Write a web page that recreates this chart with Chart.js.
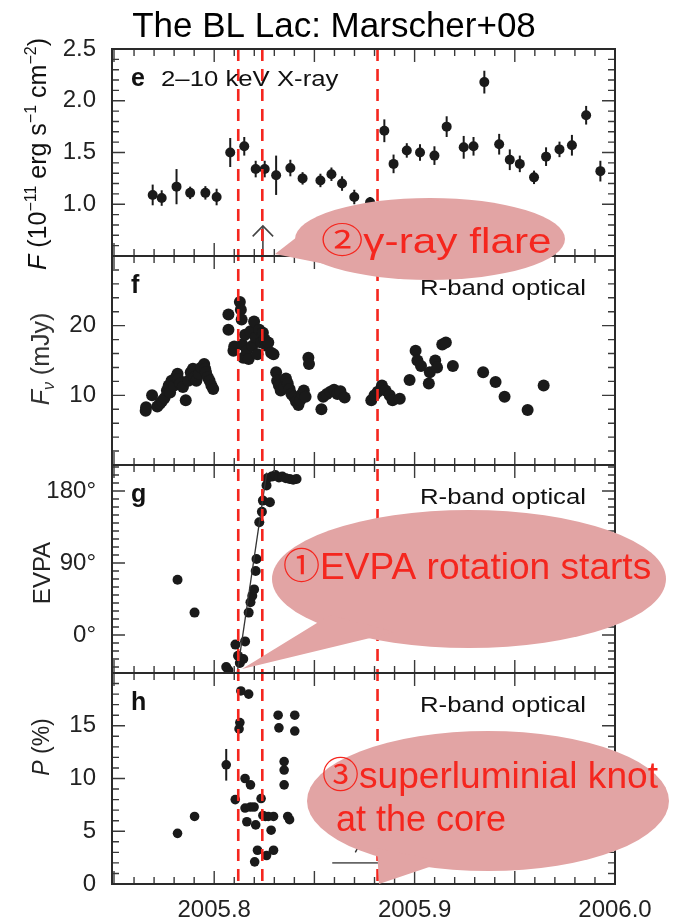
<!DOCTYPE html>
<html>
<head>
<meta charset="utf-8">
<title>The BL Lac: Marscher+08</title>
<script src="https://cdn.jsdelivr.net/npm/chart.js@4.4.1/dist/chart.umd.min.js"></script>
<style>
  html, body { margin: 0; padding: 0; background: #fff; }
</style>
</head>
<body>
<canvas id="blLac" width="682" height="924"></canvas>
<script>
// values (time in years)
const xrayYear = [2005.7693, 2005.7738, 2005.7812, 2005.7880, 2005.7956, 2005.8012, 2005.8080, 2005.8150, 2005.8207, 2005.8252, 2005.8309, 2005.8380, 2005.8441, 2005.8530, 2005.8585, 2005.8638, 2005.8699, 2005.8778, 2005.8849, 2005.8895, 2005.8961, 2005.9027, 2005.9099, 2005.9160, 2005.9245, 2005.9294, 2005.9348, 2005.9422, 2005.9475, 2005.9525, 2005.9596, 2005.9656, 2005.9723, 2005.9785, 2005.9856, 2005.9927];
const xrayFlux = [1.09, 1.06, 1.17, 1.11, 1.11, 1.07, 1.50, 1.56, 1.34, 1.34, 1.28, 1.35, 1.25, 1.23, 1.29, 1.20, 1.07, 1.02, 1.71, 1.39, 1.52, 1.50, 1.47, 1.75, 1.55, 1.56, 2.18, 1.58, 1.43, 1.39, 1.26, 1.46, 1.53, 1.57, 1.86, 1.32];
const xrayErr = [0.10, 0.075, 0.17, 0.06, 0.065, 0.08, 0.14, 0.09, 0.08, 0.08, 0.19, 0.08, 0.06, 0.065, 0.065, 0.07, 0.07, 0.05, 0.11, 0.09, 0.07, 0.08, 0.09, 0.10, 0.11, 0.09, 0.11, 0.10, 0.10, 0.08, 0.065, 0.09, 0.075, 0.10, 0.09, 0.10];

const optYear = [2005.7658, 2005.7660, 2005.7690, 2005.7716, 2005.7729, 2005.7740, 2005.7752, 2005.7764, 2005.7773, 2005.7780, 2005.7787, 2005.7800, 2005.7809, 2005.7817, 2005.7822, 2005.7830, 2005.7844, 2005.7858, 2005.7871, 2005.7883, 2005.7894, 2005.7901, 2005.7911, 2005.7924, 2005.7936, 2005.7950, 2005.7955, 2005.7959, 2005.7968, 2005.7977, 2005.7986, 2005.7995,
  2005.8071, 2005.8071, 2005.8096, 2005.8100, 2005.8128, 2005.8133, 2005.8137, 2005.8140, 2005.8145, 2005.8154, 2005.8163, 2005.8172, 2005.8181, 2005.8190, 2005.8199, 2005.8207, 2005.8216, 2005.8225, 2005.8234, 2005.8243, 2005.8252, 2005.8261, 2005.8270, 2005.8284, 2005.8296,
  2005.8309, 2005.8314, 2005.8323, 2005.8332, 2005.8349, 2005.8358, 2005.8367, 2005.8376, 2005.8385, 2005.8397, 2005.8408, 2005.8420, 2005.8429, 2005.8438, 2005.8447, 2005.8456, 2005.8470, 2005.8473, 2005.8535, 2005.8544, 2005.8562, 2005.8580, 2005.8598, 2005.8615, 2005.8630, 2005.8651,
  2005.8784, 2005.8800, 2005.8816, 2005.8837, 2005.8855, 2005.8876, 2005.8890, 2005.8926, 2005.8975, 2005.9005, 2005.9014, 2005.9032, 2005.9071, 2005.9076, 2005.9103, 2005.9112, 2005.9138, 2005.9156, 2005.9191, 2005.9342, 2005.9404, 2005.9449, 2005.9564, 2005.9644];
const optFlux = [7.8, 8.3, 10.0, 8.4, 8.8, 9.2, 9.6, 10.7, 11.4, 10.4, 12.1, 11.4, 12.6, 13.1, 12.3, 11.7, 11.2, 9.3, 12.1, 13.3, 13.8, 12.6, 12.1, 13.1, 14.0, 14.5, 13.8, 13.3, 12.6, 12.1, 11.4, 10.9,
  21.6, 19.4, 16.4, 17.0, 23.4, 22.3, 20.9, 17.3, 15.4, 18.7, 16.4, 15.2, 19.2, 17.1, 20.6, 18.3, 15.9, 19.4, 17.6, 19.0, 18.0, 17.1, 17.6, 16.1, 15.9,
  13.3, 12.1, 11.4, 10.7, 11.2, 12.4, 11.7, 10.9, 10.2, 9.8, 9.1, 8.6, 9.3, 10.2, 10.7, 9.8, 15.4, 14.5, 8.0, 9.8, 10.2, 10.5, 10.8, 10.2, 10.6, 9.7,
  9.3, 10.0, 10.5, 11.4, 10.7, 10.0, 9.3, 9.5, 12.2, 16.4, 15.0, 14.2, 11.7, 13.3, 15.0, 14.0, 17.3, 17.6, 14.2, 13.3, 11.9, 9.8, 7.9, 11.4];

const evpaYear = [2005.7817, 2005.7902, 2005.8060, 2005.8071, 2005.8106, 2005.8119, 2005.8128, 2005.8145, 2005.8154, 2005.8172, 2005.8181, 2005.8190, 2005.8199, 2005.8207, 2005.8211, 2005.8225, 2005.8238, 2005.8243, 2005.8261, 2005.8278, 2005.8264, 2005.8287, 2005.8305, 2005.8323, 2005.8340, 2005.8358, 2005.8376, 2005.8394, 2005.8411];
const evpaDeg = [69, 28, -40, -44, -12, -26, -35, -30, -8, 28, 41, 49, 57, 80, 95, 141, 154, 168, 187, 166, 196, 198, 200, 197, 198, 196, 195, 194, 195];
const evpaFitYear = [2005.8115, 2005.8262];
const evpaFitDeg = [-47, 203];

const polYear = [2005.7817, 2005.7902, 2005.8060, 2005.8105, 2005.8133, 2005.8128, 2005.8124, 2005.8172, 2005.8154, 2005.8181, 2005.8154, 2005.8163, 2005.8181, 2005.8199, 2005.8207, 2005.8216, 2005.8202, 2005.8234, 2005.8243, 2005.8255, 2005.8270, 2005.8284, 2005.8296, 2005.8296, 2005.8261, 2005.8319, 2005.8323, 2005.8349, 2005.8349, 2005.8349, 2005.8367, 2005.8376, 2005.8402, 2005.8402];
const polPct = [4.8, 6.4, 11.3, 8.0, 18.3, 15.3, 14.7, 18.0, 10.0, 9.4, 7.2, 5.9, 7.3, 7.3, 5.6, 3.2, 2.1, 8.1, 6.5, 6.4, 6.4, 5.1, 6.4, 3.2, 2.7, 16.0, 14.8, 11.6, 10.8, 9.4, 6.4, 6.1, 16.0, 14.5];
const polErr = [0, 0, 1.5, 0, 0, 0, 0, 0, 0, 0, 0, 0, 0, 0, 0, 0, 0, 0, 0, 0, 0, 0, 0, 0, 0, 0, 0, 0, 0, 0, 0, 0, 0, 0];

// event epochs (red dashed lines) and leftover markers of the original figure
const eventYears = [2005.812, 2005.824, 2005.8815];
const arrowYear = [2005.8243, 2005.8243];
const arrowFlux = [0.5, 0.79];
const arrowHeadYear = [2005.8192, 2005.8243, 2005.8294];
const arrowHeadFlux = [0.69, 0.79, 0.69];
const limitYear = [2005.8589, 2005.8819];
const limitPct = [2.0, 2.0];
const slashYear = [2005.8704, 2005.8739];
const slashPct = [3.0, 4.2];

// axis ranges and labelled ticks
const xRange = [2005.749, 2006.0];
const xTicks = [2005.8, 2005.9, 2006.0];
const xrayRange = [0.5, 2.5], xrayTicks = [1.0, 1.5, 2.0, 2.5];
const optRange = [0, 30], optTicks = [10, 20];
const evpaRange = [-47.5, 212.5], evpaTicks = [0, 90, 180];
const polRange = [0, 20], polTicks = [0, 5, 10, 15];

const FONT = '"Liberation Sans", Arial, Helvetica, sans-serif';
const CJK = '"Liberation Sans", "Noto Sans CJK JP", sans-serif';
const INK = '#1a1a1a';
const RED = 'rgb(245, 38, 30)';
const PINK = 'rgb(226, 164, 164)';

const pts = (xs, ys) => xs.map((x, i) => ({ x: x, y: ys[i] }));

const dots = (xs, ys, axis, r) => ({
  data: pts(xs, ys),
  yAxisID: axis,
  backgroundColor: INK,
  borderColor: INK,
  pointRadius: r,
  pointBorderWidth: 0,
  showLine: false,
});
const strokes = (xs, ys, axis, color, width) => ({
  data: pts(xs, ys),
  yAxisID: axis,
  borderColor: color,
  borderWidth: width,
  pointRadius: 0,
  showLine: true,
  fill: false,
});

const xrayDots = dots(xrayYear, xrayFlux, 'yE', 5);
xrayDots.yErr = xrayErr;
const polDots = dots(polYear, polPct, 'yH', 4.8);
polDots.yErr = polErr;

// minor / major tick steps for the hand drawn inner ticks
const tickSteps = { x: [0.01, 0.05], yE: [0.1, 0.5], yF: [2, 10], yG: [10, 90], yH: [1, 5] };
const panels = ['yE', 'yF', 'yG', 'yH'];

function stepValues(min, max, step) {
  const out = [];
  for (let k = Math.ceil(min / step - 1e-6); k * step <= max + 1e-9; k++) out.push(k * step);
  return out;
}
const isMajor = (v, step) => Math.abs(v / step - Math.round(v / step)) < 1e-6;

const errorBars = {
  id: 'errorBars',
  beforeDatasetsDraw(chart) {
    const ctx = chart.ctx;
    chart.data.datasets.forEach((ds, i) => {
      if (!ds.yErr) return;
      const ys = chart.scales[ds.yAxisID];
      ctx.save();
      ctx.strokeStyle = INK;
      ctx.lineWidth = 2;
      chart.getDatasetMeta(i).data.forEach((p, j) => {
        const e = ds.yErr[j];
        if (!e) return;
        ctx.beginPath();
        ctx.moveTo(p.x, ys.getPixelForValue(ds.data[j].y - e));
        ctx.lineTo(p.x, ys.getPixelForValue(ds.data[j].y + e));
        ctx.stroke();
      });
      ctx.restore();
    });
  },
};

const frame = {
  id: 'frame',
  afterDatasetsDraw(chart) {
    const ctx = chart.ctx;
    const xs = chart.scales.x;
    const top = chart.chartArea.top, bottom = chart.chartArea.bottom;
    ctx.save();
    // red dashed event lines
    ctx.strokeStyle = RED;
    ctx.lineWidth = 2.6;
    ctx.setLineDash([12, 8]);
    eventYears.forEach(t => {
      const px = xs.getPixelForValue(t);
      ctx.beginPath();
      ctx.moveTo(px, top);
      ctx.lineTo(px, bottom);
      ctx.stroke();
    });
    ctx.setLineDash([]);
    // boxes with inward ticks on all four sides
    panels.forEach(k => {
      const s = chart.scales[k];
      const t = s.top, b = s.bottom, l = xs.left, r = xs.right;
      ctx.strokeStyle = '#3a3a3a';
      ctx.lineWidth = 1.4;
      ctx.beginPath();
      stepValues(xs.min, xs.max, tickSteps.x[0]).forEach(v => {
        const px = xs.getPixelForValue(v);
        const len = isMajor(v, tickSteps.x[1]) ? 13 : 7;
        ctx.moveTo(px, t); ctx.lineTo(px, t + len);
        ctx.moveTo(px, b); ctx.lineTo(px, b - len);
      });
      stepValues(s.min, s.max, tickSteps[k][0]).forEach(v => {
        const py = s.getPixelForValue(v);
        const len = isMajor(v, tickSteps[k][1]) ? 13 : 7;
        ctx.moveTo(l, py); ctx.lineTo(l + len, py);
        ctx.moveTo(r, py); ctx.lineTo(r - len, py);
      });
      ctx.stroke();
      ctx.strokeStyle = '#2a2a2a';
      ctx.lineWidth = 2;
      ctx.strokeRect(l, t, r - l, b - t);
    });
    ctx.restore();
  },
};

function richVertical(ctx, parts, cx, cy, size, color) {
  ctx.save();
  ctx.translate(cx, cy);
  ctx.rotate(-Math.PI / 2);
  ctx.fillStyle = color;
  ctx.textAlign = 'left';
  ctx.textBaseline = 'alphabetic';
  const fontOf = p => (p.it ? 'italic ' : '') + ((p.sup || p.sub) ? Math.round(size * 0.62) : size) + 'px ' + FONT;
  let w = 0;
  parts.forEach(p => { ctx.font = fontOf(p); w += ctx.measureText(p.t).width; });
  let x = -w / 2;
  parts.forEach(p => {
    ctx.font = fontOf(p);
    const dy = p.sup ? -size * 0.4 : p.sub ? size * 0.2 : 0;
    ctx.fillText(p.t, x, size * 0.36 + dy);
    x += ctx.measureText(p.t).width;
  });
  ctx.restore();
}

// text that is a little wider than the font (the figure was stretched sideways)
function wideText(ctx, text, x, y, align, sx) {
  ctx.save();
  ctx.translate(x, y);
  ctx.scale(sx, 1);
  ctx.textAlign = align;
  ctx.fillText(text, 0, 0);
  ctx.restore();
}

function bubble(ctx, e, tail) {
  ctx.fillStyle = PINK;
  ctx.beginPath();
  ctx.ellipse(e[0], e[1], e[2], e[3], 0, 0, Math.PI * 2);
  ctx.fill();
  ctx.beginPath();
  ctx.moveTo(tail[0][0], tail[0][1]);
  ctx.lineTo(tail[1][0], tail[1][1]);
  ctx.lineTo(tail[2][0], tail[2][1]);
  ctx.closePath();
  ctx.fill();
}

const texts = {
  id: 'texts',
  afterDraw(chart) {
    const ctx = chart.ctx;
    const l = chart.chartArea.left;
    const sc = chart.scales;
    ctx.save();
    // title
    ctx.fillStyle = '#000';
    ctx.font = '35px ' + FONT;
    ctx.textAlign = 'center';
    ctx.textBaseline = 'alphabetic';
    ctx.fillText('The BL Lac: Marscher+08', 334, 37);

    // panel letters and band names
    ctx.textAlign = 'left';
    ctx.textBaseline = 'middle';
    [['e', 'yE'], ['f', 'yF'], ['g', 'yG'], ['h', 'yH']].forEach(([c, k]) => {
      ctx.font = 'bold 25px ' + FONT;
      ctx.fillStyle = '#111';
      ctx.fillText(c, l + 19, sc[k].top + 30);
    });
    ctx.font = '22px ' + FONT;
    wideText(ctx, '2\u201310 keV X-ray', l + 49, sc.yE.top + 31, 'left', 1.17);
    ['yF', 'yG', 'yH'].forEach(k => wideText(ctx, 'R-band optical', 586, sc[k].top + 33, 'right', 1.17));

    // axis titles
    richVertical(ctx, [{ t: 'F', it: true }, { t: ' (10' }, { t: '\u221211', sup: true }, { t: ' erg s' }, { t: '\u22121', sup: true }, { t: ' cm' }, { t: '\u22122', sup: true }, { t: ')' }], 37, 154, 25, '#111');
    richVertical(ctx, [{ t: 'F', it: true }, { t: '\u03bd', it: true, sub: true }, { t: ' (mJy)' }], 40, 359, 25, '#333');
    richVertical(ctx, [{ t: 'EVPA' }], 41, 573, 24, '#222');
    richVertical(ctx, [{ t: 'P', it: true }, { t: ' (%)' }], 41, 747, 23, '#222');

    // callouts
    bubble(ctx, [430, 239, 135, 41], [[275, 254], [306, 230], [345, 268]]);
    bubble(ctx, [469, 579, 197, 69], [[242, 669], [330, 615], [395, 632]]);
    bubble(ctx, [488, 801, 181, 70], [[379, 884], [377, 848], [444, 862]]);
    ctx.fillStyle = RED;
    ctx.textBaseline = 'alphabetic';
    ctx.font = '35px ' + CJK;
    wideText(ctx, '\u2461\u03b3-ray flare', 321, 253, 'left', 1.21);
    ctx.font = '36px ' + CJK;
    wideText(ctx, '\u2460EVPA rotation starts', 283, 579, 'left', 1.03);
    wideText(ctx, '\u2462superluminial knot', 322, 788, 'left', 1.03);
    wideText(ctx, 'at the core', 336, 831, 'left', 1.0);
    ctx.restore();
  },
};

const yAxis = (range, ticks, weight, fmt) => ({
  type: 'linear',
  position: 'left',
  stack: 'panels',
  stackWeight: weight,
  min: range[0],
  max: range[1],
  grid: { display: false },
  border: { display: false },
  ticks: { font: { family: FONT, size: 24 }, color: '#222', padding: 8, callback: fmt },
  afterBuildTicks: s => { s.ticks = ticks.map(v => ({ value: v })); },
  afterFit: s => { s.width = 112; },
});

new Chart(document.getElementById('blLac'), {
  type: 'scatter',
  data: {
    datasets: [
      xrayDots,
      strokes(arrowYear, arrowFlux, 'yE', '#444', 1.6),
      strokes(arrowHeadYear, arrowHeadFlux, 'yE', '#444', 1.6),
      dots(optYear, optFlux, 'yF', 6),
      strokes(evpaFitYear, evpaFitDeg, 'yG', '#333', 1.3),
      dots(evpaYear, evpaDeg, 'yG', 5),
      polDots,
      strokes(limitYear, limitPct, 'yH', '#666', 1.6),
      strokes(slashYear, slashPct, 'yH', '#333', 1.4),
    ],
  },
  options: {
    responsive: false,
    animation: false,
    devicePixelRatio: 1,
    events: [],
    layout: { padding: { top: 49, right: 67, bottom: 0, left: 0 } },
    plugins: { legend: { display: false }, tooltip: { enabled: false } },
    scales: {
      x: {
        type: 'linear',
        position: 'bottom',
        min: xRange[0],
        max: xRange[1],
        grid: { display: false },
        border: { display: false },
        ticks: { font: { family: FONT, size: 24 }, color: '#222', padding: 4, maxRotation: 0, callback: v => v.toFixed(1) },
        afterBuildTicks: s => { s.ticks = xTicks.map(v => ({ value: v })); },
        afterFit: s => { s.height = 40; },
      },
      yH: yAxis(polRange, polTicks, 211, v => String(v)),
      yG: yAxis(evpaRange, evpaTicks, 208, v => v + '\u00b0'),
      yF: yAxis(optRange, optTicks, 209, v => String(v)),
      yE: yAxis(xrayRange, xrayTicks, 207, v => v.toFixed(1)),
    },
  },
  plugins: [errorBars, frame, texts],
});
</script>
</body>
</html>
